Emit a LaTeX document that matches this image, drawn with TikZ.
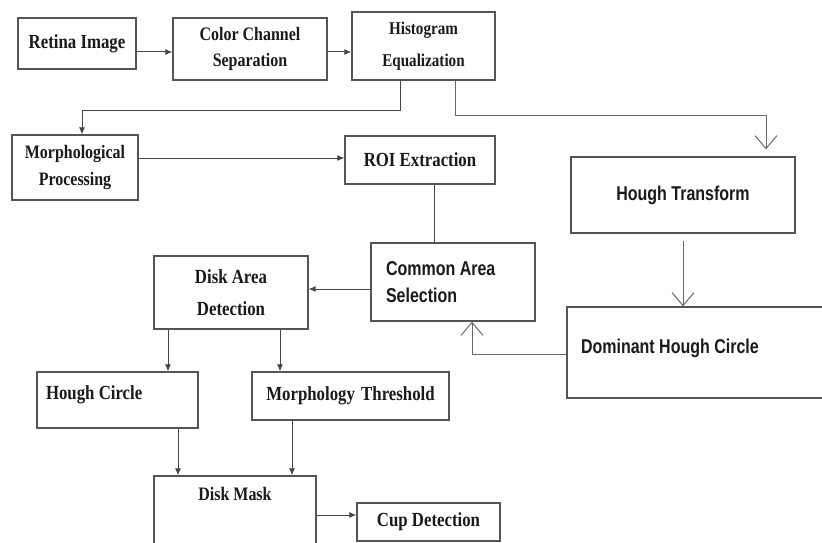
\documentclass[tikz,border=0pt]{standalone}
\usepackage{fontspec}
\usetikzlibrary{arrows.meta}
\newfontfamily\myserif{Liberation Serif}[FakeStretch=0.84]
\newfontfamily\mysans{Liberation Sans}[FakeStretch=0.8]
\definecolor{boxline}{HTML}{555555}
\definecolor{conline}{HTML}{444444}
\definecolor{txt}{HTML}{1A1A1A}
\tikzset{
  box/.style={draw=boxline, line width=1.3pt, inner sep=0pt, text=txt,
    font=\myserif\bfseries\fontsize{20}{26}\selectfont, align=center},
  sbox/.style={box, font=\mysans\bfseries\fontsize{20}{27}\selectfont},
  con/.style={draw=conline, line width=1pt},
  arr/.style={con, -{Latex[length=7pt,width=6pt]}},
  varr/.style={draw=conline!80, line width=1pt, -{Straight Barb[length=13pt,width=22pt]}},
}
\begin{document}
\begin{tikzpicture}[x=1pt,y=-1pt]
\useasboundingbox (0,0) rectangle (822,543);
\clip (0,0) rectangle (822,543);
\fill[white] (0,0) rectangle (822,543);

\node[box, minimum width=118pt, minimum height=51pt] (retina) at (77,43.5) {Retina Image};
\node[box, minimum width=154pt, minimum height=62pt, font=\myserif\bfseries\fontsize{19}{26}\selectfont] (color) at (250,49) {Color Channel\\Separation};
\node[box, minimum width=143pt, minimum height=68pt,
      font=\myserif\bfseries\fontsize{18}{32}\selectfont] (hist) at (423.5,46) {Histogram\\Equalization};
\node[box, minimum width=126pt, minimum height=65pt, font=\myserif\bfseries\fontsize{19}{27}\selectfont] (morph) at (75,167.5) {Morphological\\Processing};
\node[box, minimum width=150pt, minimum height=48pt] (roi) at (420,160) {ROI Extraction};
\node[sbox, minimum width=224pt, minimum height=76pt] (hough) at (683,195) {Hough Transform};
\node[sbox, minimum width=164pt, minimum height=78pt] (common) at (453,282)
  {\makebox[134pt][l]{Common Area}\\\makebox[134pt][l]{Selection}};
\node[sbox, minimum width=273pt, text height=46pt, text depth=45pt] (dom) at (703.5,352.5)
  {\makebox[245pt][l]{Dominant Hough Circle}};
\node[box, minimum width=154pt, minimum height=73pt,
      font=\myserif\bfseries\fontsize{20}{32}\selectfont] (disk) at (231,292.5) {Disk Area\\Detection};
\node[box, minimum width=161pt, text height=27pt, text depth=29pt] (hc) at (117.5,400)
  {\makebox[143pt][l]{Hough Circle}};
\node[box, minimum width=197pt, minimum height=48pt] (mt) at (350.5,396) {Morphology\hspace{2pt} Threshold};
\node[box, minimum width=162pt, text height=24pt, text depth=60pt,
      font=\myserif\bfseries\fontsize{19}{24}\selectfont] (mask) at (235,518) {Disk Mask};
\node[box, minimum width=143pt, minimum height=38pt] (cup) at (428.5,522) {Cup Detection};

\coordinate (b1) at (400,110);
\coordinate (b2) at (455,115);

\draw[arr] ([yshift=-8.5pt]retina.east) -- ([yshift=-8.5pt]retina.east -| color.west);
\draw[arr] ([yshift=-3pt]color.east) -- ([yshift=-3pt]color.east -| hist.west);
\draw[arr] (hist.south -| b1) -- (b1) -| ([xshift=7pt]morph.north);
\draw[varr] (hist.south -| b2) -- (b2) -| ([xshift=83pt,yshift=7pt]hough.north);
\draw[arr] ([yshift=9.5pt]morph.east) -- ([yshift=9.5pt]morph.east -| roi.west);
\draw[con] ([xshift=14pt]roi.south) -- ([xshift=14pt]roi.south |- common.north);
\draw[arr] ([yshift=-7pt]common.west) -- ([yshift=-7pt]common.west -| disk.east);
\draw[varr] ([yshift=-7pt]hough.south) -- (hough.south |- dom.north);
\draw[varr] ([yshift=-1.5pt]dom.west) -| ([xshift=19pt]common.south);
\draw[arr] ([xshift=-63pt]disk.south) -- ([xshift=-63pt]disk.south |- hc.north);
\draw[arr] ([xshift=49pt]disk.south) -- ([xshift=49pt]disk.south |- mt.north);
\draw[arr] ([xshift=60.5pt]hc.south) -- ([xshift=60.5pt]hc.south |- mask.north);
\draw[arr] ([xshift=-58.5pt]mt.south) -- ([xshift=-58.5pt]mt.south |- mask.north);
\draw[arr] ([yshift=3pt]mask.east) -- ([yshift=3pt]mask.east -| cup.west);
\end{tikzpicture}
\end{document}
